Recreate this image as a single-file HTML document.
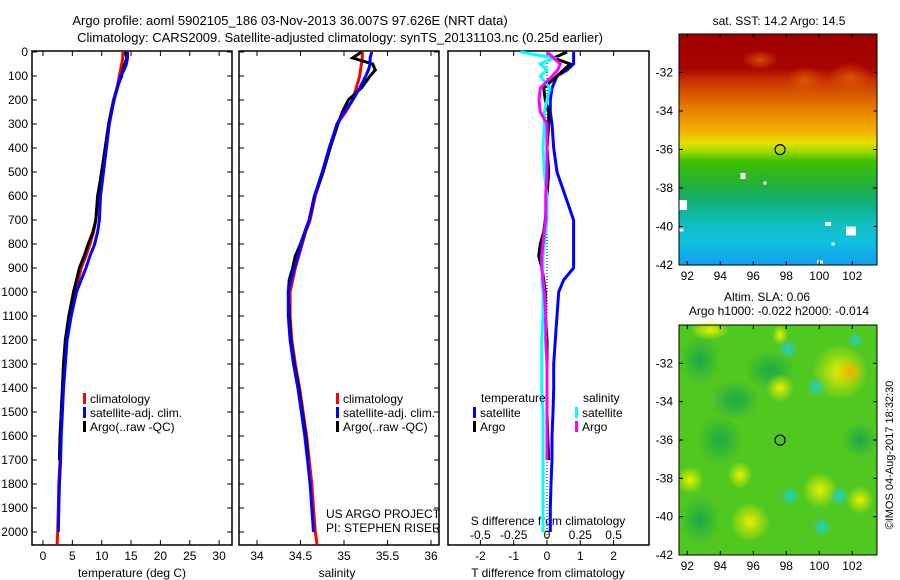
<!DOCTYPE html>
<html><head><meta charset="utf-8"><style>
body{margin:0;background:#fff}
svg{display:block;font-family:"Liberation Sans",sans-serif;font-size:12px}
</style></head><body>
<svg id="c" width="900" height="580" viewBox="0 0 900 580">
<defs>
<linearGradient id="sstg" x1="0" y1="0" x2="0" y2="1">
<stop offset="0" stop-color="#a00000"/><stop offset="0.15" stop-color="#a80400"/>
<stop offset="0.2" stop-color="#c83000"/><stop offset="0.26" stop-color="#d85800"/>
<stop offset="0.34" stop-color="#e88800"/><stop offset="0.42" stop-color="#f0b000"/>
<stop offset="0.47" stop-color="#e8e000"/><stop offset="0.51" stop-color="#a0d800"/>
<stop offset="0.55" stop-color="#40c000"/><stop offset="0.66" stop-color="#20b040"/>
<stop offset="0.74" stop-color="#10b080"/><stop offset="0.82" stop-color="#10c0c0"/>
<stop offset="0.9" stop-color="#10c0e0"/><stop offset="1" stop-color="#10a0f0"/></linearGradient>
<radialGradient id="cy"><stop offset="0" stop-color="#20d0d0"/><stop offset="1" stop-color="#20d0d0" stop-opacity="0"/></radialGradient>
<radialGradient id="yl"><stop offset="0" stop-color="#e8f000"/><stop offset="1" stop-color="#e8f000" stop-opacity="0"/></radialGradient>
<radialGradient id="or"><stop offset="0" stop-color="#f0b000"/><stop offset="1" stop-color="#f0b000" stop-opacity="0"/></radialGradient>
<radialGradient id="dg"><stop offset="0" stop-color="#10a050"/><stop offset="1" stop-color="#10a050" stop-opacity="0"/></radialGradient>
<radialGradient id="dr"><stop offset="0" stop-color="#e06000"/><stop offset="1" stop-color="#e06000" stop-opacity="0"/></radialGradient>
</defs>
<text x="290" y="25" text-anchor="middle" font-size="13">Argo profile: aoml 5902105_186 03-Nov-2013 36.007S 97.626E (NRT data)</text>
<text x="340" y="42" text-anchor="middle" font-size="13">Climatology: CARS2009. Satellite-adjusted climatology: synTS_20131103.nc (0.25d earlier)</text>
<g id="g"></g>
</svg>
<script>
const depths=[0,25,50,75,100,150,200,250,300,400,500,600,700,750,800,850,900,950,1000,1100,1200,1300,1400,1500,1600,1700,1800,1900,2000,2050];
const tClim=[13.6,13.6,13.4,13.2,13.0,12.6,12.0,11.6,11.2,10.6,10.0,9.4,9.0,8.6,8.0,7.3,6.5,6.0,5.4,4.5,3.9,3.6,3.4,3.2,3.0,2.9,2.7,2.6,2.5,2.4];
const tSat=[14.4,14.4,14.2,13.8,13.2,12.7,12.1,11.7,11.3,10.8,10.3,9.8,9.6,9.3,8.8,8.0,7.3,6.5,5.7,4.8,4.1,3.8,3.5,3.3,3.1,3.0,2.8,2.7,2.6,null];
const tArgo=[14.0,14.3,13.9,13.6,13.4,12.6,12.1,11.6,11.2,10.6,10.0,9.3,9.0,8.5,7.7,7.0,6.2,5.7,5.2,4.4,3.8,3.5,3.3,3.1,2.9,2.8,null,null,null,null];
const sClim=[35.21,35.21,35.2,35.19,35.18,35.14,35.10,35.02,34.92,34.84,34.76,34.67,34.61,34.56,34.52,34.48,34.44,34.41,34.38,34.38,34.40,34.44,34.49,34.53,34.57,34.60,34.63,34.65,34.67,34.69];
const sSat=[35.32,35.3,35.3,35.28,35.25,35.18,35.10,35.0,34.92,34.83,34.75,34.66,34.6,34.55,34.51,34.47,34.43,34.39,34.36,34.36,34.38,34.42,34.47,34.51,34.55,34.58,34.61,34.63,34.65,null];
const sArgo=[35.2,35.1,35.33,35.36,35.3,35.2,35.05,34.98,34.93,34.84,34.76,34.66,34.6,34.55,34.5,34.44,34.41,34.37,34.36,34.37,34.39,34.43,34.48,34.52,34.56,34.59,null,null,null,null];
const dTsat=[0.8,0.8,0.8,0.6,0.3,0.15,0.1,0.1,0.15,0.2,0.3,0.55,0.8,0.8,0.8,0.8,0.8,0.5,0.35,0.3,0.25,0.2,0.2,0.18,0.15,0.15,0.12,0.1,0.1,null];
const dTargo=[0.6,0.2,0.7,0.5,0.3,-0.1,-0.05,0.05,0.05,0.0,0.05,0.0,-0.05,-0.1,-0.2,-0.25,-0.15,-0.1,-0.05,-0.05,0.0,0.0,0.0,0.0,0.02,0.05,null,null,null,null];
const dSsat=[-0.2,0.05,-0.05,0.0,-0.05,0.02,0.0,-0.02,-0.02,-0.03,-0.02,0.0,0.0,-0.01,-0.02,-0.03,-0.03,-0.04,-0.03,-0.03,-0.04,-0.04,-0.04,-0.03,-0.03,-0.03,-0.03,-0.03,-0.03,null];
const dSargo=[0.0,0.05,0.1,0.08,0.04,-0.05,-0.06,-0.05,0.0,0.0,0.0,-0.01,-0.01,-0.02,-0.03,-0.04,-0.04,-0.03,-0.02,-0.01,-0.01,0.0,0.0,0.0,0.0,0.0,null,null,null,null];
const depthTicks=[0,100,200,300,400,500,600,700,800,900,1000,1100,1200,1300,1400,1500,1600,1700,1800,1900,2000];
const tTicks=[0,5,10,15,20,25,30];
const sTicks=[34,34.5,35,35.5,36];
const dTTicks=[-2,-1,0,1,2];
const dSTicks=[-0.5,-0.25,0,0.25,0.5];
const lonTicks=[92,94,96,98,100,102];
const latTicks=[-32,-34,-36,-38,-40,-42];

const NS='http://www.w3.org/2000/svg';
const G=document.getElementById('g');
function mk(tag,attrs,parent){const e=document.createElementNS(NS,tag);for(const k in attrs)e.setAttribute(k,attrs[k]);(parent||G).appendChild(e);return e;}
function txt(x,y,s,anchor,parent,size){const e=mk('text',{x:x,y:y,'text-anchor':anchor||'middle'},parent);if(size)e.setAttribute('font-size',size);e.textContent=s;return e;}
const yD=d=>52+d*0.24;
const TOP=51,BOT=545;
const xT=v=>43+v*5.87;
const xS=v=>257+(v-34)*87;
const xDT=v=>547+v*33.3;
const xDS=v=>547+v*133.2;

function panel(name,l,r){
  const f=mk('rect',{x:l,y:TOP,width:r-l,height:BOT-TOP,fill:'none',stroke:'#000','stroke-width':1.5});
  
  depthTicks.forEach(d=>{mk('line',{x1:l,x2:l+5,y1:yD(d),y2:yD(d),stroke:'#000'});mk('line',{x1:r,x2:r-5,y1:yD(d),y2:yD(d),stroke:'#000'});});
}
function series(name,arr,xf,color){
  let pts=[];depths.forEach((d,i)=>{if(arr[i]!==null)pts.push(xf(arr[i]).toFixed(1)+','+yD(d).toFixed(1));});
  const p=mk('polyline',{points:pts.join(' '),fill:'none',stroke:color,'stroke-width':3,'stroke-linejoin':'miter'});
  
}
function legendEntry(x,y,color,label,name){
  const g=mk('g',{});
  mk('rect',{x:x,y:y-10,width:3,height:11,fill:color},g);txt(x+7,y,label,'start',g);
}

panel('temperature-panel',32,232);
depthTicks.forEach(d=>{const t=txt(28,yD(d)+4,String(d),'end');});
tTicks.forEach(v=>{mk('line',{x1:xT(v),x2:xT(v),y1:BOT,y2:BOT-5,stroke:'#000'});mk('line',{x1:xT(v),x2:xT(v),y1:TOP,y2:TOP+5,stroke:'#000'});txt(xT(v),560,String(v));});
txt(132,577,'temperature (deg C)');
series('temp-climatology',tClim,xT,'#f00');series('temp-argo',tArgo,xT,'#000');series('temp-satellite',tSat,xT,'#00f');
legendEntry(83,403,'#f00','climatology','legend-climatology');
legendEntry(83,417,'#00f','satellite-adj. clim.','legend-satellite');
legendEntry(83,431,'#000','Argo(..raw -QC)','legend-argo');

panel('salinity-panel',239,439);
sTicks.forEach(v=>{mk('line',{x1:xS(v),x2:xS(v),y1:BOT,y2:BOT-5,stroke:'#000'});mk('line',{x1:xS(v),x2:xS(v),y1:TOP,y2:TOP+5,stroke:'#000'});txt(xS(v),560,String(v));});
txt(337,577,'salinity');
series('sal-climatology',sClim,xS,'#f00');series('sal-argo',sArgo,xS,'#000');series('sal-satellite',sSat,xS,'#00f');
legendEntry(336,403,'#f00','climatology','legend-climatology-2');
legendEntry(336,417,'#00f','satellite-adj. clim.','legend-satellite-2');
legendEntry(336,431,'#000','Argo(..raw -QC)','legend-argo-2');
txt(326,518,'US ARGO PROJECT','start');txt(326,532,'PI: STEPHEN RISER','start');

const fr=mk('rect',{x:448,y:TOP,width:201,height:BOT-TOP,fill:'none',stroke:'#000','stroke-width':1.5});

mk('line',{x1:547,x2:547,y1:TOP,y2:BOT,stroke:'#000','stroke-dasharray':'1,2'});
dTTicks.forEach(v=>{mk('line',{x1:xDT(v),x2:xDT(v),y1:BOT,y2:BOT-5,stroke:'#000'});mk('line',{x1:xDT(v),x2:xDT(v),y1:TOP,y2:TOP+5,stroke:'#000'});txt(xDT(v),560,String(v));});
dSTicks.forEach(v=>{txt(xDS(v),539,String(v));});
txt(548,525,'S difference from climatology');
txt(548,577,'T difference from climatology');
series('diff-t-satellite',dTsat,xDT,'#00f');series('diff-t-argo',dTargo,xDT,'#000');
series('diff-s-satellite',dSsat,xDS,'#0ff');series('diff-s-argo',dSargo,xDS,'#f0f');
txt(481,402,'temperature','start');txt(583,402,'salinity','start');
legendEntry(473,417,'#00f','satellite','legend-t-satellite');
legendEntry(473,431,'#000','Argo','legend-t-argo');
legendEntry(575,417,'#0ff','satellite','legend-s-satellite');
legendEntry(575,431,'#f0f','Argo','legend-s-argo');

function mapAxes(name,top,bot,latTop){
  const lx=lon=>679+(lon-91.5)*16.5;
  const ly=lat=>top+(latTop-lat)*(bot-top)/(latTop+42);
  const f=mk('rect',{x:679,y:top,width:198,height:bot-top,fill:'none',stroke:'#000'});
  
  lonTicks.forEach(v=>{mk('line',{x1:lx(v),x2:lx(v),y1:bot,y2:bot-4,stroke:'#000'});mk('line',{x1:lx(v),x2:lx(v),y1:top,y2:top+4,stroke:'#000'});txt(lx(v),bot+15,String(v));});
  latTicks.forEach(v=>{mk('line',{x1:679,x2:683,y1:ly(v),y2:ly(v),stroke:'#000'});mk('line',{x1:877,x2:873,y1:ly(v),y2:ly(v),stroke:'#000'});txt(673,ly(v)+4,String(v),'end');});
  const c=mk('ellipse',{cx:lx(97.626),cy:ly(-36.007),rx:5,ry:5,fill:'none',stroke:'#000','stroke-width':1.2});
  
  return [lx,ly];
}
const sst=mk('g',{});
mk('rect',{x:679,y:34,width:198,height:231,fill:'url(#sstg)'},sst);
[[805,80,18,14],[850,78,22,16],[760,60,18,10]].forEach(b=>mk('ellipse',{cx:b[0],cy:b[1],rx:b[2],ry:b[3],fill:'url(#dr)',opacity:0.8},sst));
[[743,176,5,6],[765,183,3,3],[683,205,8,10],[681,230,5,3],[828,224,6,4],[851,231,10,9],[820,262,6,3],[833,244,3,3]].forEach(b=>mk('rect',{x:b[0]-b[2]/2,y:b[1]-b[3]/2,width:b[2],height:b[3],fill:'#fff'},sst));
mapAxes('sst-map',34,265,-30);
txt(779,25,'sat. SST: 14.2  Argo: 14.5');
const sla=mk('g',{});
mk('rect',{x:679,y:325,width:198,height:230,fill:'#50c820'},sla);
[[700,360,20,25],[770,370,25,20],[720,440,22,25],[700,520,20,25],[860,440,18,18],[735,400,25,20]].forEach(b=>mk('ellipse',{cx:b[0],cy:b[1],rx:b[2],ry:b[3],fill:'url(#dg)',opacity:0.8},sla));
[[840,372,28,28],[780,388,14,14],[750,522,20,20],[690,480,14,14],[740,475,12,14],[820,490,18,18],[710,330,20,10],[860,500,14,14],[780,335,8,10]].forEach(b=>mk('ellipse',{cx:b[0],cy:b[1],rx:b[2],ry:b[3],fill:'url(#yl)'},sla));
mk('ellipse',{cx:850,cy:372,rx:14,ry:14,fill:'url(#or)'},sla);
[[788,349,10],[816,387,10],[790,496,10],[839,496,10],[822,527,10],[855,340,8]].forEach(b=>mk('circle',{cx:b[0],cy:b[1],r:b[2],fill:'url(#cy)'},sla));
mapAxes('sla-map',325,555,-30);
txt(724,301,'Altim. SLA: 0.06','start');
txt(779,315,'Argo h1000: -0.022 h2000: -0.014');
const cr=txt(893,455,'©IMOS 04-Aug-2017 18:32:30');cr.setAttribute('transform','rotate(-90 893 455)');cr.setAttribute('font-size','11');

</script>
</body></html>
